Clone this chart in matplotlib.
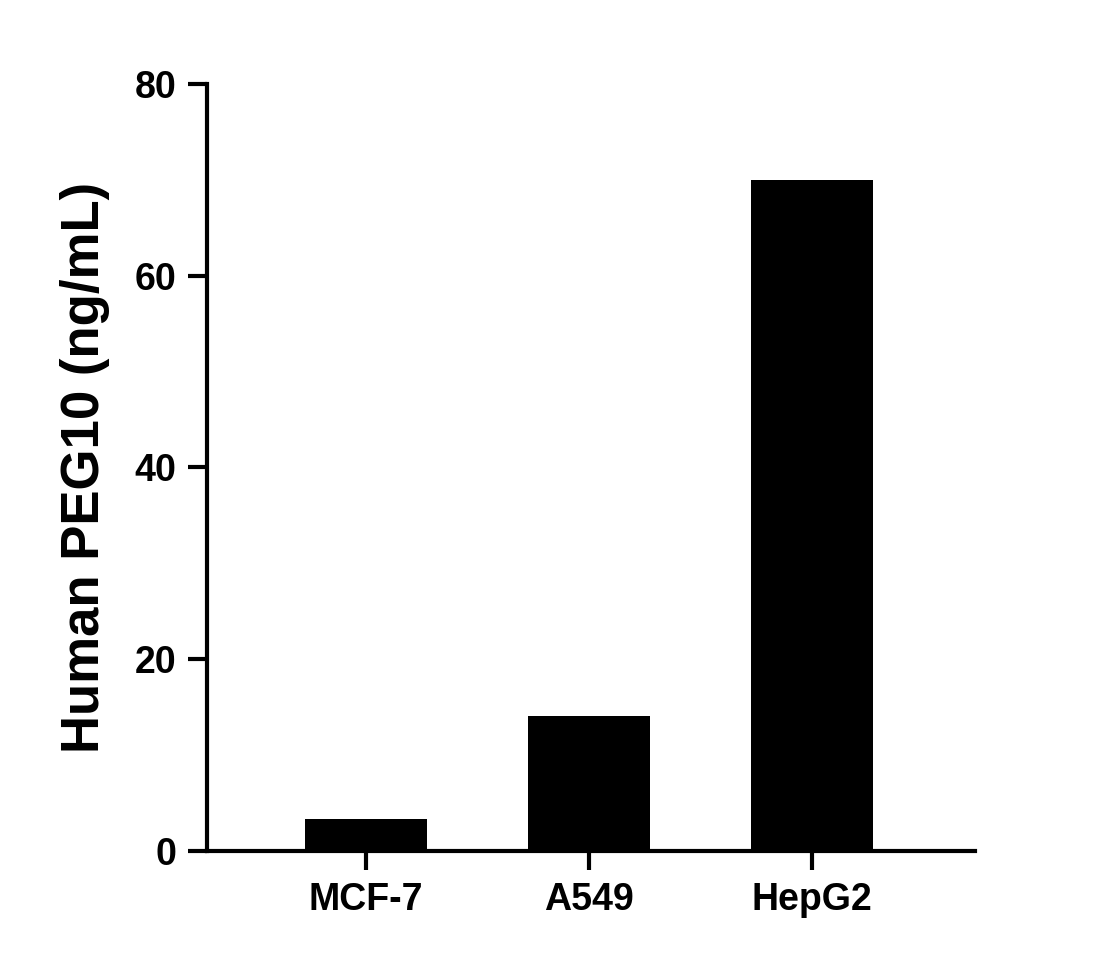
import matplotlib
matplotlib.use("Agg")
import matplotlib.pyplot as plt

categories = ["MCF-7", "A549", "HepG2"]
values = [3.3, 14.1, 70.0]
yticks = [0, 20, 40, 60, 80]

plt.rcParams['font.family'] = ['Liberation Sans', 'DejaVu Sans']
plt.rcParams['font.weight'] = 'bold'
fig = plt.figure(figsize=(11.11, 9.67), dpi=100)
ax = fig.add_axes([0.1863, 0.1200, 0.6913, 0.7932])
x = list(range(len(categories)))
ax.bar(x, values, width=0.55, color='black')
ax.set_xlim(-0.713, 2.731)
ax.set_ylim(0, 80)
ax.set_yticks(yticks)
ax.set_xticks(x)
ax.set_xticklabels(categories)
for s in ['top', 'right']:
    ax.spines[s].set_visible(False)
for s in ['left', 'bottom']:
    ax.spines[s].set_linewidth(3)
ax.tick_params(width=3, length=14, labelsize=27, pad=8)
for lab in ax.get_xticklabels() + ax.get_yticklabels():
    lab.set_fontweight('bold')
ax.set_ylabel("Human PEG10 (ng/mL)", fontsize=38, fontweight='bold', labelpad=18)
fig.savefig("out.png", dpi=100)
